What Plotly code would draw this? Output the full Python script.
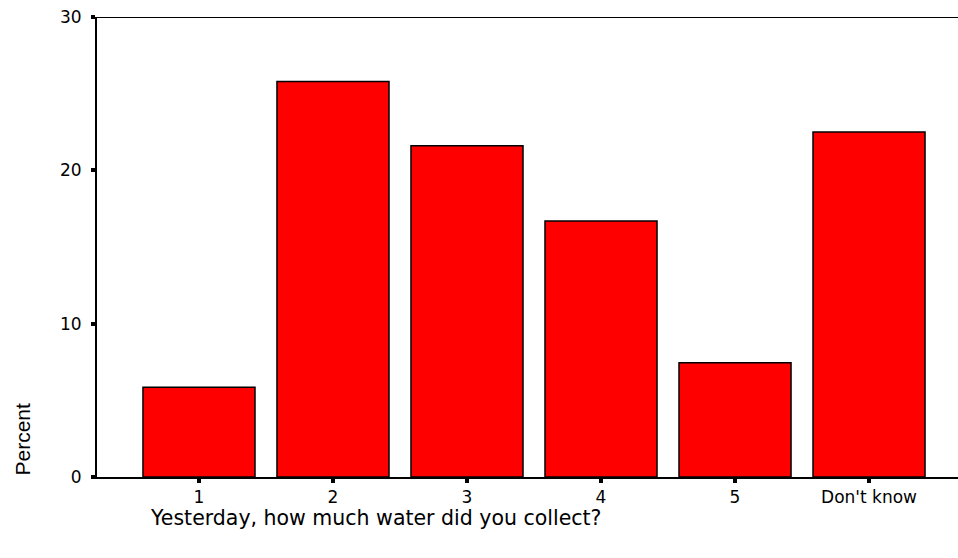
import plotly.graph_objects as go

categories = ["1", "2", "3", "4", "5", "Don't know"]
percent = [5.85, 25.8, 21.6, 16.7, 7.45, 22.5]
y_ticks = [0, 10, 20, 30]
x_title = "Yesterday, how much water did you collect?"
y_title = "Percent"

fig = go.Figure()
fig.add_trace(go.Bar(
    x=list(range(len(categories))),
    y=percent,
    marker=dict(color="#FF0000", line=dict(color="black", width=1.5)),
    hoverinfo="skip",
))

L, R, T, B = 97, 0, 17, 81
W, H = 958, 558

fig.update_layout(
    width=W, height=H,
    margin=dict(l=L, r=R, t=T, b=B, pad=0),
    paper_bgcolor="white", plot_bgcolor="white",
    bargap=0.164,
    showlegend=False,
    font=dict(family="DejaVu Sans", color="black", size=17),
    xaxis=dict(
        range=[-0.761, 5.664],
        tickmode="array",
        tickvals=list(range(len(categories))),
        ticktext=categories,
        ticks="outside", ticklen=4, tickwidth=4, tickcolor="black",
        showline=True, linecolor="black", linewidth=1.5,
        showgrid=False, zeroline=False,
        tickfont=dict(family="DejaVu Sans", size=17, color="black"),
    ),
    yaxis=dict(
        range=[0, 30],
        tickmode="array",
        tickvals=y_ticks,
        ticks="outside", ticklen=4, tickwidth=4, tickcolor="black",
        showline=True, linecolor="black", linewidth=2,
        showgrid=False, zeroline=False,
        ticklabelstandoff=6,
        tickfont=dict(family="DejaVu Sans", size=17, color="black"),
    ),
    shapes=[dict(type="line", xref="paper", yref="y", x0=0, x1=1, y0=30, y1=30,
                 line=dict(color="black", width=2))],
    annotations=[
        dict(text=x_title, xref="paper", yref="paper",
             x=(148 - L) / (W - L - R), y=(477 - 518) / (H - T - B),
             xanchor="left", yanchor="middle", showarrow=False,
             font=dict(family="DejaVu Sans", size=20.5, color="black")),
        dict(text=y_title, xref="paper", yref="paper",
             x=(21.5 - L) / (W - L - R), y=(477 - 439) / (H - T - B),
             xanchor="center", yanchor="middle", showarrow=False, textangle=-90,
             font=dict(family="Liberation Sans", size=21, color="black")),
    ],
)

fig.write_html(
    "out.html",
    config={"displayModeBar": False, "staticPlot": True},
    post_script="document.body.style.margin='0';document.body.style.overflow='hidden';",
)
